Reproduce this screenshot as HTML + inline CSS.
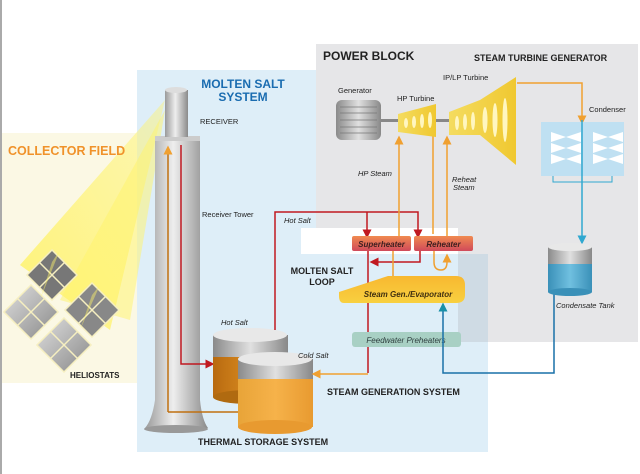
<!DOCTYPE html>
<html><head><meta charset="utf-8"><style>
body{margin:0;background:#fff}
svg{display:block}
text{font-family:"Liberation Sans",sans-serif}
</style></head><body>
<svg width="640" height="474" viewBox="0 0 640 474" xmlns="http://www.w3.org/2000/svg">
<defs>
<linearGradient id="tw" x1="0" x2="1"><stop offset="0" stop-color="#9a9a9a"/><stop offset=".45" stop-color="#eeeeee"/><stop offset="1" stop-color="#8a8a8a"/></linearGradient>
<linearGradient id="beam" x1="0" y1="1" x2="1" y2="0"><stop offset="0" stop-color="#fff36a" stop-opacity=".9"/><stop offset="1" stop-color="#fff36a" stop-opacity=".4"/></linearGradient>
<linearGradient id="org" x1="0" x2="1"><stop offset="0" stop-color="#e8a438"/><stop offset=".5" stop-color="#f6b24a"/><stop offset="1" stop-color="#e89a30"/></linearGradient>
<linearGradient id="dorg" x1="0" x2="1"><stop offset="0" stop-color="#b86a10"/><stop offset=".5" stop-color="#d88a20"/><stop offset="1" stop-color="#b06a10"/></linearGradient>
<linearGradient id="met" x1="0" x2="1"><stop offset="0" stop-color="#8a8a8a"/><stop offset=".5" stop-color="#e0e0e0"/><stop offset="1" stop-color="#888"/></linearGradient>
<linearGradient id="box" x1="0" y1="0" x2="0" y2="1"><stop offset="0" stop-color="#f08a50"/><stop offset="1" stop-color="#d04a5a"/></linearGradient>
<linearGradient id="sg" x1="0" y1="0" x2="0" y2="1"><stop offset="0" stop-color="#f8b830"/><stop offset="1" stop-color="#f8d040"/></linearGradient>
<linearGradient id="tb" x1="0" x2="1"><stop offset="0" stop-color="#f4dc60"/><stop offset="1" stop-color="#f0c830"/></linearGradient>
<linearGradient id="wt" x1="0" x2="1"><stop offset="0" stop-color="#3a90b8"/><stop offset=".5" stop-color="#70c0e0"/><stop offset="1" stop-color="#3a90b8"/></linearGradient>
<linearGradient id="hel" x1="0" y1="0" x2="1" y2="1"><stop offset="0" stop-color="#e0e0e0"/><stop offset="1" stop-color="#888"/></linearGradient>
<marker id="ar" markerWidth="6" markerHeight="6" refX="3" refY="3" orient="auto"><path d="M0,0L6,3L0,6z" fill="#c01820"/></marker>
<marker id="ao" markerWidth="6" markerHeight="6" refX="3" refY="3" orient="auto"><path d="M0,0L6,3L0,6z" fill="#f0a030"/></marker>
<marker id="ab" markerWidth="6" markerHeight="6" refX="3" refY="3" orient="auto"><path d="M0,0L6,3L0,6z" fill="#30a8d0"/></marker>
<marker id="at" markerWidth="6" markerHeight="6" refX="3" refY="3" orient="auto"><path d="M0,0L6,3L0,6z" fill="#1890a8"/></marker>
</defs>
<rect x="0" y="0" width="2" height="474" fill="#aaa"/>
<rect x="2" y="133" width="135" height="250" fill="#fbf8e4"/>
<rect x="137" y="70" width="351" height="382" fill="#deeef8"/>
<rect x="316" y="44" width="322" height="298" fill="#e6e6e8"/>
<rect x="301" y="228" width="157" height="26" fill="#fff"/>
<rect x="301" y="254" width="157" height="88" fill="#deeef8"/>
<rect x="458" y="254" width="30" height="88" fill="#cfdbe4"/>
<polygon points="165,100 20,265 110,330" fill="url(#beam)"/>
<polygon points="165,110 60,300 130,320" fill="#fff36a" opacity=".5"/>
<g stroke="#f6efc0" stroke-width="1.5">
<polygon points="52,250 77,275 52,300 27,275" fill="#777"/>
<polygon points="31,285 58,312 31,339 4,312" fill="url(#hel)"/>
<polygon points="92,283 119,310 92,337 65,310" fill="#888"/>
<polygon points="64,318 91,345 64,372 37,345" fill="url(#hel)"/>
<line x1="39.5" y1="262.5" x2="64.5" y2="287.5"/><line x1="64.5" y1="262.5" x2="39.5" y2="287.5"/>
<line x1="17.5" y1="298.5" x2="44.5" y2="325.5"/><line x1="44.5" y1="298.5" x2="17.5" y2="325.5"/>
<line x1="78.5" y1="296.5" x2="105.5" y2="323.5"/><line x1="105.5" y1="296.5" x2="78.5" y2="323.5"/>
<line x1="50.5" y1="331.5" x2="77.5" y2="358.5"/><line x1="77.5" y1="331.5" x2="50.5" y2="358.5"/>
</g>
<polygon points="52,262 60,250 40,300" fill="#fff36a" opacity=".45"/>
<polygon points="92,295 100,285 80,330" fill="#fff36a" opacity=".45"/>
<path d="M155,137 L200,137 L200,400 Q202,420 208,428 L145,428 Q152,420 155,400Z" fill="url(#tw)"/>
<ellipse cx="176" cy="429" rx="32" ry="4" fill="#999"/>
<rect x="155" y="136" width="45" height="5" fill="#ccc"/>
<rect x="165" y="90" width="23" height="47" fill="url(#tw)"/>
<ellipse cx="176" cy="90" rx="11" ry="3" fill="#ddd"/>
<polyline points="168,412 168,150" fill="none" stroke="#c07010" stroke-width="1.5" marker-end="url(#ao)"/>
<polyline points="168,412 240,412" fill="none" stroke="#c07010" stroke-width="1.5"/>
<polyline points="181,145 181,364 210,364" fill="none" stroke="#c01820" stroke-width="1.5" marker-end="url(#ar)"/>
<rect x="213" y="335" width="75" height="62" fill="url(#dorg)"/>
<rect x="213" y="335" width="75" height="22" fill="url(#met)"/>
<ellipse cx="250" cy="397" rx="37" ry="7" fill="#b06a10"/>
<ellipse cx="250" cy="335" rx="37" ry="7" fill="#e8e8e8"/>
<rect x="238" y="359" width="75" height="68" fill="url(#org)"/>
<rect x="238" y="359" width="75" height="20" fill="url(#met)"/>
<ellipse cx="275" cy="427" rx="37" ry="7" fill="#e89a30"/>
<ellipse cx="275" cy="359" rx="37" ry="7" fill="#e8e8e8"/>
<polyline points="275,330 275,212 418,212 418,234" fill="none" stroke="#c01820" stroke-width="1.5" marker-end="url(#ar)"/>
<polyline points="367,212 367,234" fill="none" stroke="#c01820" stroke-width="1.5" marker-end="url(#ar)"/>
<polyline points="420,251 420,262 374,262" fill="none" stroke="#c01820" stroke-width="1.5" marker-end="url(#ar)"/>
<polyline points="368,251 368,373" fill="none" stroke="#c01820" stroke-width="1.5"/>
<polyline points="368,374 316,374" fill="none" stroke="#f0a030" stroke-width="1.5" marker-end="url(#ao)"/>
<polyline points="393,276 393,251" fill="none" stroke="#f0a030" stroke-width="1.5"/>
<polyline points="399,236 399,140" fill="none" stroke="#f0a030" stroke-width="1.5" marker-end="url(#ao)"/>
<polyline points="433,132 433,234" fill="none" stroke="#f0a030" stroke-width="1.5"/>
<polyline points="447,236 447,140" fill="none" stroke="#f0a030" stroke-width="1.5" marker-end="url(#ao)"/>
<path d="M434,251 L434,262 Q434,270 441,270 Q447,270 447,262 L447,258" fill="none" stroke="#f0a030" stroke-width="1.5" marker-end="url(#ao)"/>
<polyline points="517,83 582,83 582,120" fill="none" stroke="#f0a030" stroke-width="1.5" marker-end="url(#ao)"/>
<rect x="352" y="236" width="59" height="15" rx="2" fill="url(#box)"/>
<rect x="414" y="236" width="59" height="15" rx="2" fill="url(#box)"/>
<text x="381.5" y="247" font-size="8" font-style="italic" font-weight="bold" fill="#402020" text-anchor="middle">Superheater</text>
<text x="443.5" y="247" font-size="8" font-style="italic" font-weight="bold" fill="#402020" text-anchor="middle">Reheater</text>
<path d="M388,276 L456,276 Q465,276 465,285 L465,295 Q465,303 456,303 L344,303 Q339,303 339,296 L339,292 Z" fill="url(#sg)"/>
<text x="408" y="297" font-size="8" font-style="italic" font-weight="bold" fill="#403010" text-anchor="middle">Steam Gen./Evaporator</text>
<rect x="352" y="332" width="109" height="15" rx="3" fill="#a8d0c4"/>
<text x="406" y="343" font-size="8" font-style="italic" fill="#304040" text-anchor="middle">Feedwater Preheaters</text>
<polyline points="554,290 554,373 443,373 443,307" fill="none" stroke="#1870a8" stroke-width="1.5" marker-end="url(#at)"/>
<rect x="381" y="119" width="70" height="3" fill="#888"/>
<rect x="336" y="100" width="45" height="40" rx="6" fill="url(#met)"/>
<g stroke="#777" stroke-width=".8"><line x1="340" y1="107" x2="377" y2="107"/><line x1="340" y1="113" x2="377" y2="113"/><line x1="340" y1="120" x2="377" y2="120"/><line x1="340" y1="127" x2="377" y2="127"/><line x1="340" y1="133" x2="377" y2="133"/></g>
<polygon points="398,114 436,104 436,137 398,132" fill="url(#tb)"/>
<polygon points="449,112 480,100 516,77 516,165 480,135 449,135" fill="url(#tb)"/>
<g fill="#fff6c0"><ellipse cx="406" cy="123" rx="2" ry="5"/><ellipse cx="414" cy="122" rx="2" ry="6"/><ellipse cx="422" cy="121" rx="2" ry="7"/><ellipse cx="430" cy="120" rx="2" ry="8"/>
<ellipse cx="457" cy="123" rx="2" ry="7"/><ellipse cx="465" cy="122" rx="2" ry="8"/><ellipse cx="473" cy="121" rx="2" ry="9"/><ellipse cx="485" cy="120" rx="2.5" ry="13"/><ellipse cx="495" cy="120" rx="2.5" ry="17"/><ellipse cx="505" cy="120" rx="2.5" ry="22"/></g>
<rect x="541" y="122" width="83" height="54" fill="#bfe0f2"/>
<g fill="#fff"><polygon points="551,132 566,137 551,142"/><polygon points="581,132 566,137 581,142"/><polygon points="551,143 566,148 551,153"/><polygon points="581,143 566,148 581,153"/><polygon points="551,154 566,159 551,164"/><polygon points="581,154 566,159 581,164"/>
<polygon points="593,132 608,137 593,142"/><polygon points="623,132 608,137 623,142"/><polygon points="593,143 608,148 593,153"/><polygon points="623,143 608,148 623,153"/><polygon points="593,154 608,159 593,164"/><polygon points="623,154 608,159 623,164"/></g>
<polyline points="553,176 553,182 612,182 612,176" fill="none" stroke="#30a8d0" stroke-width="1"/>
<polyline points="582,120 582,240" fill="none" stroke="#30a8d0" stroke-width="1.5" marker-end="url(#ab)"/>
<rect x="548" y="247" width="44" height="45" fill="url(#wt)"/>
<rect x="548" y="247" width="44" height="17" fill="url(#met)"/>
<ellipse cx="570" cy="292" rx="22" ry="4" fill="#3a90b8"/>
<ellipse cx="570" cy="247" rx="22" ry="4" fill="#e8e8e8"/>
<text x="8" y="155" font-size="12.5" font-weight="bold" fill="#f0922a">COLLECTOR FIELD</text>
<text x="243" y="88" font-size="12" font-weight="bold" fill="#1a6cb0" text-anchor="middle">MOLTEN SALT</text>
<text x="243" y="101" font-size="12" font-weight="bold" fill="#1a6cb0" text-anchor="middle">SYSTEM</text>
<text x="200" y="124" font-size="7.5" fill="#222">RECEIVER</text>
<text x="202" y="217" font-size="7.5" fill="#222">Receiver Tower</text>
<text x="284" y="223" font-size="7.5" font-style="italic" fill="#222">Hot Salt</text>
<text x="70" y="378" font-size="8" font-weight="bold" fill="#222">HELIOSTATS</text>
<text x="221" y="325" font-size="7.5" font-style="italic" fill="#222">Hot Salt</text>
<text x="298" y="358" font-size="7.5" font-style="italic" fill="#222">Cold Salt</text>
<text x="198" y="445" font-size="9" font-weight="bold" fill="#222">THERMAL STORAGE SYSTEM</text>
<text x="327" y="395" font-size="9" font-weight="bold" fill="#222">STEAM GENERATION SYSTEM</text>
<text x="322" y="274" font-size="9" font-weight="bold" fill="#222" text-anchor="middle">MOLTEN SALT</text>
<text x="322" y="285" font-size="9" font-weight="bold" fill="#222" text-anchor="middle">LOOP</text>
<text x="323" y="60" font-size="12" font-weight="bold" fill="#222">POWER BLOCK</text>
<text x="474" y="61" font-size="9" font-weight="bold" fill="#222">STEAM TURBINE GENERATOR</text>
<text x="338" y="93" font-size="7.5" fill="#222">Generator</text>
<text x="397" y="101" font-size="7.5" fill="#222">HP Turbine</text>
<text x="443" y="80" font-size="7.5" fill="#222">IP/LP Turbine</text>
<text x="589" y="112" font-size="7.5" fill="#222">Condenser</text>
<text x="358" y="176" font-size="7.5" font-style="italic" fill="#222">HP Steam</text>
<text x="452" y="182" font-size="7.5" font-style="italic" fill="#222">Reheat</text>
<text x="453" y="190" font-size="7.5" font-style="italic" fill="#222">Steam</text>
<text x="556" y="308" font-size="7.5" font-style="italic" fill="#222">Condensate Tank</text>
</svg>
</body></html>
